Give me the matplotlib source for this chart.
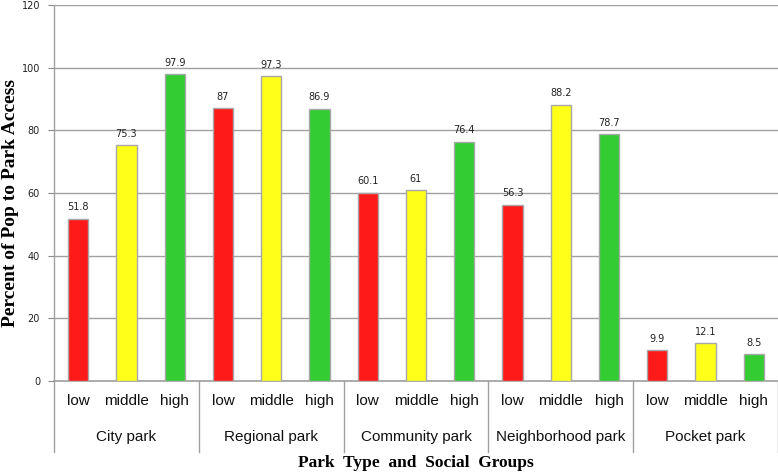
import numpy as np
import matplotlib.pyplot as plt
import matplotlib.transforms as mtransforms

# Data
park_types = ['City park', 'Regional park', 'Community park', 'Neighborhood park', 'Pocket park']
groups = ['low', 'middle', 'high']
low_vals = [51.8, 87, 60.1, 56.3, 9.9]
middle_vals = [75.3, 97.3, 61, 88.2, 12.1]
high_vals = [97.9, 86.9, 76.4, 78.7, 8.5]
value_labels = [['51.8', '75.3', '97.9'], ['87', '97.3', '86.9'], ['60.1', '61', '76.4'],
                ['56.3', '88.2', '78.7'], ['9.9', '12.1', '8.5']]
group_colors = ['#FF1A1A', '#FFFF1A', '#33CC33']
y_ticks = [0, 20, 40, 60, 80, 100, 120]

fig = plt.figure(figsize=(7.78, 4.75), dpi=100)
ax = fig.add_axes([54 / 778, 1 - 381 / 475, 1 - 54 / 778, (381 - 5) / 475])

series = [low_vals, middle_vals, high_vals]
n = len(park_types)
for i in range(n):
    for j in range(3):
        x = i * 3 + j
        val = series[j][i]
        ax.bar(x, val, width=0.42, color=group_colors[j], edgecolor='#A8A8A8',
               linewidth=1, zorder=3)
        ax.text(x, val + 2, value_labels[i][j], ha='center', va='bottom',
                fontsize=7, color='#222222', zorder=4)

ax.set_xlim(-0.5, n * 3 - 0.5)
ax.set_ylim(0, 120)
ax.set_yticks(y_ticks)
ax.set_yticklabels([str(t) for t in y_ticks], fontsize=7, color='#222222')
ax.tick_params(axis='y', length=4, color='#888888', pad=6)
ax.set_xticks([])
ax.yaxis.grid(True, color='#A0A0A0', linewidth=1, zorder=0)
ax.set_axisbelow(True)
for side in ['top', 'right']:
    ax.spines[side].set_visible(False)
ax.spines['left'].set_color('#A0A0A0')
ax.spines['bottom'].set_color('#A0A0A0')
ax.spines['left'].set_linewidth(1)
ax.spines['bottom'].set_linewidth(1.2)

# Two-level category axis below the plot
trans = mtransforms.blended_transform_factory(ax.transData, fig.transFigure)
for i in range(n):
    for j in range(3):
        ax.text(i * 3 + j, 1 - 401 / 475, groups[j], transform=trans, ha='center',
                va='center', fontsize=11, family='Liberation Sans', color='#111111')
    ax.text(i * 3 + 1, 1 - 437 / 475, park_types[i], transform=trans, ha='center',
            va='center', fontsize=11, family='Liberation Sans', color='#111111')
for k in range(n + 1):
    xk = k * 3 - 0.5
    ax.plot([xk, xk], [1 - 381 / 475, 1 - 452 / 475], transform=trans, color='#A0A0A0',
            linewidth=1, clip_on=False)

fig.text(0.5 + 27 / 778, 1 - 463 / 475, 'Park  Type  and  Social  Groups', ha='center',
         va='center', fontsize=12.5, fontweight='bold', family='Liberation Serif')
fig.text(11 / 778, 1 - 203 / 475, 'Percent of Pop to Park Access', rotation=90, ha='center',
         va='center', fontsize=14, fontweight='bold', family='Liberation Serif')

fig.savefig('out.png', dpi=100)
